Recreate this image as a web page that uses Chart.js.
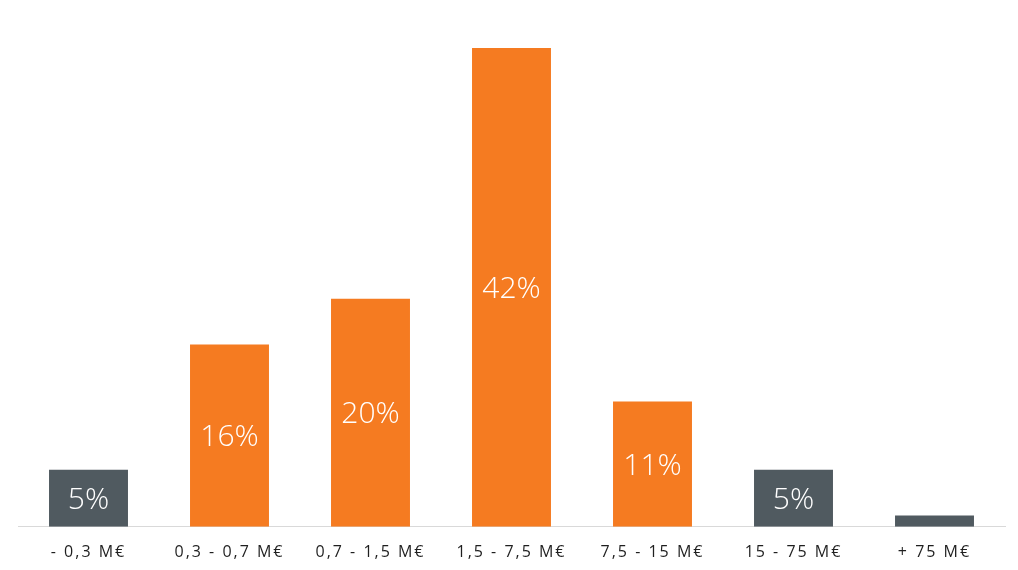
<!DOCTYPE html>
<html>
<head>
<meta charset="utf-8">
<script src="https://cdn.jsdelivr.net/npm/chart.js@4"></script>
<style>
  html, body { margin: 0; padding: 0; background: #fff; }
  #wrap { width: 1018px; height: 570px; }
</style>
</head>
<body>
<div id="wrap"><canvas id="grafico"></canvas></div>
<script>
const categorias = ["- 0,3 M€", "0,3 - 0,7 M€", "0,7 - 1,5 M€", "1,5 - 7,5 M€", "7,5 - 15 M€", "15 - 75 M€", "+ 75 M€"];
const valores = [5, 16, 20, 42, 11, 5, 1];
const rotulos = ["5%", "16%", "20%", "42%", "11%", "5%", ""];
const cores = ["#505a60", "#f57b21", "#f57b21", "#f57b21", "#f57b21", "#505a60", "#505a60"];

// espaçamento entre letras nos rótulos do eixo
const espacamentoPlugin = {
  id: "espacamento",
  beforeInit(chart) { chart.ctx.letterSpacing = "2px"; },
  beforeDraw(chart) { chart.ctx.letterSpacing = "2px"; }
};

const rotulosPlugin = {
  id: "rotulos",
  afterDatasetsDraw(chart) {
    const ctx = chart.ctx;
    const meta = chart.getDatasetMeta(0);
    ctx.save();
    ctx.letterSpacing = "0px";
    ctx.fillStyle = "#ffffff";
    ctx.font = "300 30px 'Open Sans'";
    ctx.textAlign = "center";
    ctx.textBaseline = "middle";
    meta.data.forEach((bar, i) => {
      if (!rotulos[i]) return;
      ctx.fillText(rotulos[i], bar.x, (bar.y + bar.base) / 2 + 2);
    });
    ctx.restore();
  }
};

new Chart(document.getElementById("grafico"), {
  type: "bar",
  data: {
    labels: categorias,
    datasets: [{
      data: valores,
      backgroundColor: cores,
      barPercentage: 0.56,
      categoryPercentage: 1
    }]
  },
  options: {
    responsive: true,
    maintainAspectRatio: false,
    animation: false,
    layout: { padding: { top: 48, left: 18, right: 13, bottom: 0 } },
    plugins: { legend: { display: false }, tooltip: { enabled: false } },
    scales: {
      x: {
        grid: { display: false },
        border: { color: "#d9d9d9", width: 1 },
        ticks: {
          color: "#1f1f1f",
          font: { family: "'Open Sans'", size: 16 },
          padding: 8
        }
      },
      y: {
        display: false,
        min: 0,
        max: 42
      }
    }
  },
  plugins: [espacamentoPlugin, rotulosPlugin]
});
</script>
</body>
</html>
